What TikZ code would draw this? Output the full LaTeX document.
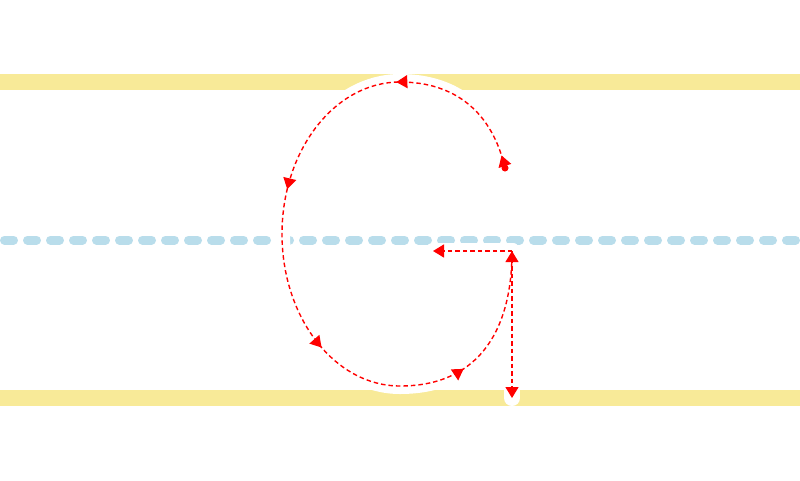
\documentclass[tikz,border=0pt]{standalone}
\usepackage{xcolor}
\usepackage{tikz}
\usetikzlibrary{arrows.meta, decorations.markings}

\definecolor{bandyellow}{HTML}{F8EA98}
\definecolor{guideblue}{HTML}{B9DDEB}
\newcommand{\strokehead}{\arrow{Triangle[length=11pt, width=13pt]}}

\begin{document}
\begin{tikzpicture}[x=1pt, y=-1pt]
        \tikzstyle{band} = [line width=16pt, bandyellow]
        \tikzstyle{guide} = [line width=9pt, guideblue, line cap=round, dash pattern=on 9pt off 14pt]
        \tikzstyle{glyph} = [line width=16pt, white, line cap=round, line join=round]
        \tikzstyle{trace} = [red, line width=1.4pt, dash pattern=on 4.5pt off 3pt]
        \tikzstyle{tip} = [-{Triangle[length=11pt, width=13pt]}]
        \tikzstyle{flow} = [postaction={decorate}, decoration={markings,
            mark=at position 13pt with {\strokehead},
            mark=at position 152pt with {\strokehead},
            mark=at position 316pt with {\strokehead},
            mark=at position 484pt with {\strokehead},
            mark=at position 641pt with {\strokehead},
            mark=at position 0.9999 with {\strokehead}}]

        \useasboundingbox (0,0) rectangle (800,480);

        \coordinate (gstart) at (505,168);
        \coordinate (gtop) at (400,82);
        \coordinate (gleft) at (282,234);
        \coordinate (gbottom) at (400,386);
        \coordinate (gend) at (512,251);
        \coordinate (barleft) at (433,251);
        \coordinate (gfoot) at (512,398);

        \draw [band] (0,82) -- (800,82);
        \draw [band] (0,398) -- (800,398);
        \draw [guide] (4.5,240) -- (800,240);

        \draw [glyph] (gstart) .. controls (492,112) and (455,82) .. (gtop)
            .. controls (335,82) and (282,150) .. (gleft)
            .. controls (282,318) and (335,386) .. (gbottom)
            .. controls (475,386) and (512,335) .. (gend);
        \draw [glyph] (gend) -- (barleft);
        \draw [glyph] (gend) -- (gfoot);

        \draw [trace, flow] (gstart) .. controls (492,112) and (455,82) .. (gtop)
            .. controls (335,82) and (282,150) .. (gleft)
            .. controls (282,318) and (335,386) .. (gbottom)
            .. controls (475,386) and (512,335) .. (gend);
        \fill [red] (gstart) circle [radius=3.5pt];
        \draw [trace, tip] (gend) -- (barleft);
        \draw [trace, tip] (gend) -- (gfoot);
\end{tikzpicture}
\end{document}
